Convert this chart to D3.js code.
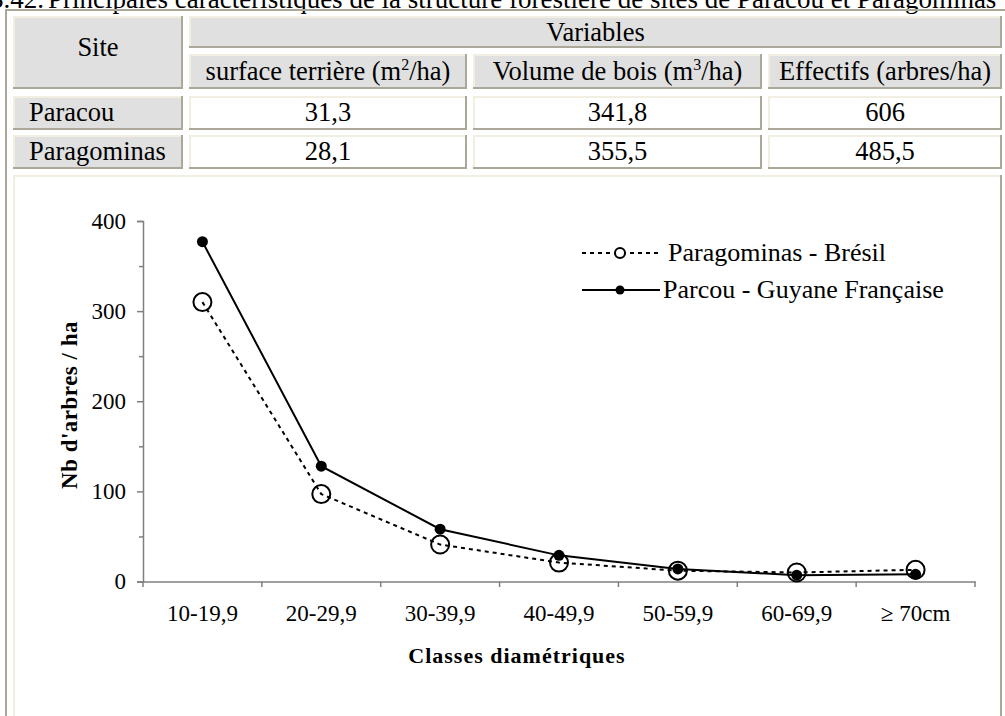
<!DOCTYPE html>
<html><head><meta charset="utf-8">
<script src="https://cdn.jsdelivr.net/npm/d3@7"></script>
<style>
html,body{margin:0;padding:0;background:#fff;overflow:hidden}
svg{display:block}
svg text{font-family:"Liberation Serif","Times New Roman",serif}
</style></head>
<body>
<svg id="c" width="1005" height="716"></svg>
<script>
// ---- data ----
const titlePrefix = "Tableau 3.42.";
const titleText = "Principales caractéristiques de la structure forestière de sites de Paracou et Paragominas";
const siteHeader = "Site";
const groupHeader = "Variables";
const variableHeaders = ["surface terrière (m|2|/ha)", "Volume de bois (m|3|/ha)", "Effectifs (arbres/ha)"];
const sites = ["Paracou", "Paragominas"];
const paracouRow = ["31,3", "341,8", "606"];
const paragominasRow = ["28,1", "355,5", "485,5"];

const categories = ["10-19,9", "20-29,9", "30-39,9", "40-49,9", "50-59,9", "60-69,9", "\u2265 70cm"];
const paragominas = [310, 97, 41, 21, 12, 10, 13];
const paracou = [377, 128, 58, 29, 14, 7, 8];
const yTicks = [0, 100, 200, 300, 400];
const yMinorTicks = [50, 150, 250, 350];
const seriesNames = ["Paragominas - Brésil", "Parcou - Guyane Française"];
const xTitle = "Classes diamétriques";
const yTitle = "Nb d'arbres / ha";

// ---- drawing ----
const FONT = "Liberation Serif, Times New Roman, serif";
const svg = d3.select("#c");
const LIGHT = "#f1efe2", DARK = "#aca899", GRAY = "#e0e0e0";
const TBL = 26.5;

// title (clipped at top, as in the source page)
svg.append("text").attr("x", 44).attr("y", 8).attr("text-anchor", "end")
  .attr("font-size", 27).text(titlePrefix);
svg.append("text").attr("x", 48).attr("y", 8)
  .attr("font-size", 27).text(titleText);

// outer table border
svg.append("line").attr("x1", 6).attr("x2", 6).attr("y1", 9).attr("y2", 716).attr("stroke", DARK).attr("stroke-width", 2);
svg.append("line").attr("x1", 5).attr("x2", 1005).attr("y1", 10).attr("y2", 10).attr("stroke", DARK).attr("stroke-width", 2);

function cell(x0, y0, x1, y1, fill) {
  const g = svg.append("g");
  g.append("rect").attr("x", x0).attr("y", y0).attr("width", x1 - x0).attr("height", y1 - y0).attr("fill", fill);
  g.append("line").attr("x1", x0).attr("x2", x1).attr("y1", y0 + 1).attr("y2", y0 + 1).attr("stroke", LIGHT).attr("stroke-width", 2);
  g.append("line").attr("x1", x0 + 1).attr("x2", x0 + 1).attr("y1", y0).attr("y2", y1).attr("stroke", LIGHT).attr("stroke-width", 2);
  g.append("line").attr("x1", x0).attr("x2", x1).attr("y1", y1 - 1).attr("y2", y1 - 1).attr("stroke", DARK).attr("stroke-width", 2);
  g.append("line").attr("x1", x1 - 1).attr("x2", x1 - 1).attr("y1", y0).attr("y2", y1).attr("stroke", DARK).attr("stroke-width", 2);
}
function label(txt, x, y, anchor) {
  const t = svg.append("text").attr("x", x).attr("y", y).attr("text-anchor", anchor || "middle")
    .attr("font-size", TBL).attr("fill", "#000");
  const parts = txt.split("|");
  parts.forEach((p, i) => {
    const s = t.append("tspan").text(p);
    if (i % 2 === 1) s.attr("font-size", 16).attr("dy", -10);
    else if (i > 0) s.attr("dy", 10);
  });
}

const cols = [[13, 183], [189, 467], [473, 762], [768, 1002]];
const rows = [[16, 48], [54, 89], [96, 130], [135, 169]];

cell(cols[0][0], rows[0][0], cols[0][1], rows[1][1], GRAY);
label(siteHeader, (cols[0][0] + cols[0][1]) / 2, 56);
cell(cols[1][0], rows[0][0], cols[3][1], rows[0][1], GRAY);
label(groupHeader, (cols[1][0] + cols[3][1]) / 2, 41);
variableHeaders.forEach((h, i) => {
  const c = cols[i + 1];
  cell(c[0], rows[1][0], c[1], rows[1][1], GRAY);
  label(h, (c[0] + c[1]) / 2, 80);
});
[paracouRow, paragominasRow].forEach((vals, r) => {
  const rr = rows[r + 2];
  cell(cols[0][0], rr[0], cols[0][1], rr[1], GRAY);
  label(sites[r], 29, rr[1] - 9, "start");
  vals.forEach((v, i) => {
    const c = cols[i + 1];
    cell(c[0], rr[0], c[1], rr[1], "#fff");
    label(v, (c[0] + c[1]) / 2, rr[1] - 9);
  });
});
// chart cell
cell(13, 175, 1002, 740, "#fff");

// ---- chart ----
const x = d3.scaleBand().domain(categories).range([143, 975]).padding(0);
const y = d3.scaleLinear().domain([0, 400]).range([581.5, 221]);
const cx = d => x(d) + x.bandwidth() / 2;
const AX = "#808080";
const tickFont = 23;

// y axis
const yAxis = svg.append("g").attr("transform", "translate(143,0)")
  .call(d3.axisLeft(y).tickValues(yTicks).tickSize(6).tickPadding(11).tickFormat(d3.format("d")));
yAxis.select(".domain").attr("stroke", AX).attr("stroke-width", 1.5);
yAxis.selectAll(".tick line").attr("stroke", AX).attr("stroke-width", 1.5);
yAxis.selectAll(".tick text").attr("font-size", tickFont).attr("font-family", FONT).attr("fill", "#000");
const yMinor = svg.append("g").attr("transform", "translate(143,0)")
  .call(d3.axisLeft(y).tickValues(yMinorTicks).tickSize(4).tickFormat(""));
yMinor.select(".domain").remove();
yMinor.selectAll(".tick line").attr("stroke", AX).attr("stroke-width", 1.5);

// x axis (labels centered, ticks at category boundaries)
const xAxis = svg.append("g").attr("transform", "translate(0,581.5)")
  .call(d3.axisBottom(x).tickSize(0).tickPadding(23));
xAxis.select(".domain").attr("stroke", AX).attr("stroke-width", 1.5);
xAxis.selectAll(".tick text").attr("font-size", tickFont).attr("font-family", FONT).attr("fill", "#000");
const bounds = categories.map(c => x(c)).concat([x.range()[1]]);
svg.append("g").selectAll("line").data(bounds).join("line")
  .attr("x1", d => d).attr("x2", d => d).attr("y1", 581.5).attr("y2", 587)
  .attr("stroke", AX).attr("stroke-width", 1.5);

// axis titles
svg.append("text").attr("x", 517).attr("y", 663).attr("text-anchor", "middle")
  .attr("font-size", 22).attr("font-weight", "bold").attr("letter-spacing", 1).text(xTitle);
svg.append("text").attr("transform", "translate(77,405) rotate(-90)").attr("text-anchor", "middle")
  .attr("font-size", 23).attr("font-weight", "bold").attr("letter-spacing", 0.5).text(yTitle);

// series
const line = d3.line().x((d, i) => cx(categories[i])).y(d => y(d));
svg.append("path").datum(paragominas).attr("d", line).attr("fill", "none")
  .attr("stroke", "#000").attr("stroke-width", 2).attr("stroke-dasharray", "4,4");
svg.append("g").selectAll("circle").data(paragominas).join("circle")
  .attr("cx", (d, i) => cx(categories[i])).attr("cy", d => y(d)).attr("r", 9)
  .attr("fill", "none").attr("stroke", "#000").attr("stroke-width", 2);
svg.append("path").datum(paracou).attr("d", line).attr("fill", "none")
  .attr("stroke", "#000").attr("stroke-width", 2);
svg.append("g").selectAll("circle").data(paracou).join("circle")
  .attr("cx", (d, i) => cx(categories[i])).attr("cy", d => y(d)).attr("r", 5.5)
  .attr("fill", "#000");

// legend
const lg = svg.append("g");
lg.append("line").attr("x1", 582).attr("x2", 658).attr("y1", 253).attr("y2", 253)
  .attr("stroke", "#000").attr("stroke-width", 2).attr("stroke-dasharray", "4,4");
lg.append("circle").attr("cx", 620).attr("cy", 253).attr("r", 5).attr("fill", "#fff").attr("stroke", "#000").attr("stroke-width", 2);
lg.append("text").attr("x", 668).attr("y", 261).attr("font-size", 26).text(seriesNames[0]);
lg.append("line").attr("x1", 582).attr("x2", 660).attr("y1", 290).attr("y2", 290)
  .attr("stroke", "#000").attr("stroke-width", 2);
lg.append("circle").attr("cx", 620).attr("cy", 290).attr("r", 4.5).attr("fill", "#000");
lg.append("text").attr("x", 663).attr("y", 298).attr("font-size", 26).text(seriesNames[1]);
</script>
</body></html>
